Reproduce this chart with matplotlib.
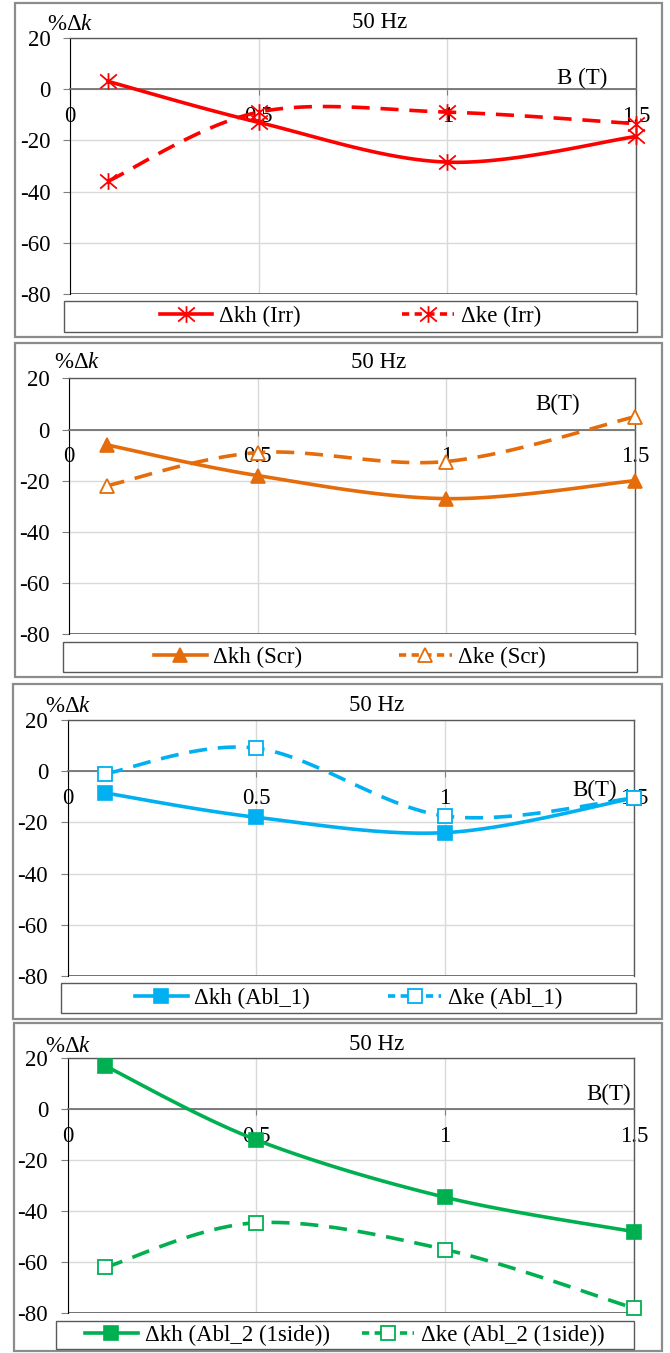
import numpy as np
import matplotlib
matplotlib.use("Agg")
import matplotlib.pyplot as plt
from matplotlib.patches import Rectangle
from matplotlib.lines import Line2D
from matplotlib.path import Path

plt.rcParams['font.family'] = ['Liberation Serif', 'DejaVu Serif']
plt.rcParams['mathtext.fontset'] = 'custom'
plt.rcParams['mathtext.rm'] = 'Liberation Serif'
plt.rcParams['mathtext.it'] = 'Liberation Serif:italic'
plt.rcParams['axes.unicode_minus'] = False

# ---- data ----
B = [0.1, 0.5, 1.0, 1.5]
kh_irr = [3, -13, -28.5, -18.5]
ke_irr = [-36, -9, -9, -13.5]
kh_scr = [-6, -18, -27, -20]
ke_scr = [-22, -9, -12.5, 5]
kh_abl1 = [-8.5, -18, -24, -10.5]
ke_abl1 = [-1, 9, -17.5, -10.5]
kh_abl2 = [17, -12, -34.5, -48]
ke_abl2 = [-62, -44.5, -55, -78]

yticks = [-80, -60, -40, -20, 0, 20]
xticks = [0, 0.5, 1, 1.5]
xticklabels = ['0', '0.5', '1', '1.5']

W, H = 670, 1353
FS = 16.5


def fig_box(l, r, t, b):
    return [l / W, 1 - b / H, (r - l) / W, (b - t) / H]


def smooth(x, y, n=40):
    # excel style smoothed line (bezier through the points)
    pts = np.column_stack([x, y]).astype(float)
    P = np.vstack([pts[0], pts, pts[-1]])
    out = []
    t = np.linspace(0, 1, n)[:, None]
    for i in range(1, len(P) - 2):
        p0, p1, p2, p3 = P[i - 1], P[i], P[i + 1], P[i + 2]
        c1 = p1 + (p2 - p0) / 6
        c2 = p2 - (p3 - p1) / 6
        seg = (1 - t) ** 3 * p1 + 3 * (1 - t) ** 2 * t * c1 + 3 * (1 - t) * t ** 2 * c2 + t ** 3 * p2
        out.append(seg if i == 1 else seg[1:])
    out = np.vstack(out)
    return out[:, 0], out[:, 1]


star = Path([(-1, -0.85), (1, 0.85), (-1, 0.85), (1, -0.85), (0, -1), (0, 1)],
            [Path.MOVETO, Path.LINETO, Path.MOVETO, Path.LINETO, Path.MOVETO, Path.LINETO])

panels = [
    dict(ax=(70, 636, 37.7, 294.3), frame=(15, 662, 3, 337), leg=(64, 637, 301, 332),
         title=(380, 23), klab=(47, 25), blab=('B (T)', 1.423, 4.2),
         kh=kh_irr, ke=ke_irr, names=('Δkh (Irr)', 'Δke (Irr)'), color='#ff0000',
         mk=star, ms=12, cs=4.4),
    dict(ax=(69, 635, 378.3, 634.3), frame=(15, 662, 343, 677), leg=(63, 637, 642, 672),
         title=(379, 363), klab=(54, 363), blab=('B(T)', 1.354, 9.7),
         kh=kh_scr, ke=ke_scr, names=('Δkh (Scr)', 'Δke (Scr)'), color='#e46c0a',
         mk='^', ms=10.5, cs=4.2),
    dict(ax=(67.5, 634, 720, 976), frame=(13, 662, 684, 1019), leg=(61, 636, 983, 1013),
         title=(377, 705), klab=(45, 707), blab=('B(T)', 1.455, -7.4),
         kh=kh_abl1, ke=ke_abl1, names=('Δkh (Abl_1)', 'Δke (Abl_1)'), color='#00b0f0',
         mk='s', ms=10, cs=3.4),
    dict(ax=(67.5, 634, 1058.3, 1313.3), frame=(14, 662, 1023, 1351), leg=(56, 634, 1321, 1349),
         title=(377, 1044), klab=(45, 1047), blab=('B(T)', 1.491, 5.7),
         kh=kh_abl2, ke=ke_abl2, names=('Δkh (Abl_2 (1side))', 'Δke (Abl_2 (1side))'), color='#00b050',
         mk='s', ms=10, cs=1.4),
]

fig = plt.figure(figsize=(W / 100, H / 100), dpi=100)

for p in panels:
    c = p['color']
    # chart frame
    l, r, t, b = p['frame']
    fig.patches.append(Rectangle((l / W, 1 - b / H), (r - l) / W, (b - t) / H, transform=fig.transFigure,
                                 fill=False, edgecolor='#8c8c8c', lw=1.6))
    ax = fig.add_axes(fig_box(*p['ax']))
    ax.set_xlim(0, 1.5)
    ax.set_ylim(-80, 20)
    ax.set_yticks(yticks)
    ax.set_xticks(xticks, labels=xticklabels)
    ax.tick_params(axis='y', length=5, pad=9, color='#7f7f7f', labelsize=FS)
    ax.tick_params(axis='x', length=4, pad=8, color='#808080', labelsize=FS)
    ax.grid(True, color='#d9d9d9', lw=1)
    ax.set_axisbelow(True)
    # category axis crosses at zero, plot area border kept at -80
    ax.spines['bottom'].set_position(('data', 0))
    ax.spines['bottom'].set_color('#737373')
    ax.spines['bottom'].set_linewidth(1.3)
    ax.axhline(-80, color='#595959', lw=1.2, zorder=2.5)
    for s in ['top', 'right']:
        ax.spines[s].set_color('#595959')
        ax.spines[s].set_linewidth(1)
    ax.spines['left'].set_color('black')

    sx, sy = smooth(B, p['kh'])
    ax.plot(sx, sy, color=c, lw=2.6, solid_capstyle='round', zorder=3)
    sx, sy = smooth(B, p['ke'])
    ax.plot(sx, sy, color=c, lw=2.6, dashes=(5, 3), zorder=3)

    if p['mk'] is star:
        kh_style = dict(marker=star, ms=p['ms'], mfc='none', mec=c, mew=1.3)
        ke_style = dict(marker=star, ms=p['ms'], mfc='none', mec=c, mew=1.3)
    else:
        kh_style = dict(marker=p['mk'], ms=p['ms'], mfc=c, mec=c, mew=1.2)
        ke_style = dict(marker=p['mk'], ms=p['ms'], mfc='white', mec=c, mew=1.3)
    ax.plot(B, p['kh'], ls='none', zorder=4, clip_on=False, **kh_style)
    ax.plot(B, p['ke'], ls='none', zorder=4, clip_on=False, **ke_style)

    ax.text(p['blab'][1], p['blab'][2], p['blab'][0], ha='right', va='center', fontsize=FS)
    fig.text(p['title'][0] / W, 1 - p['title'][1] / H, '50 Hz', ha='center', va='center', fontsize=FS)
    fig.text(p['klab'][0] / W, 1 - p['klab'][1] / H, '%Δ$k$', ha='left', va='center', fontsize=FS)

    # legend
    l, r, t, b = p['leg']
    fig.patches.append(Rectangle((l / W, 1 - b / H), (r - l) / W, (b - t) / H, transform=fig.transFigure,
                                 fill=False, edgecolor='#595959', lw=1))
    h1 = Line2D([], [], color=c, lw=2.6, **kh_style)
    h2 = Line2D([], [], color=c, lw=2.6, dashes=(2, 1.5), **ke_style)
    ax.legend([h1, h2], p['names'], loc='center', bbox_to_anchor=fig_box(l, r, t, b),
              bbox_transform=fig.transFigure, ncol=2, frameon=False, fontsize=FS,
              handlelength=2.3, handletextpad=0.3, columnspacing=p['cs'], borderaxespad=0,
              borderpad=0)

fig.savefig('out.png', dpi=100)
